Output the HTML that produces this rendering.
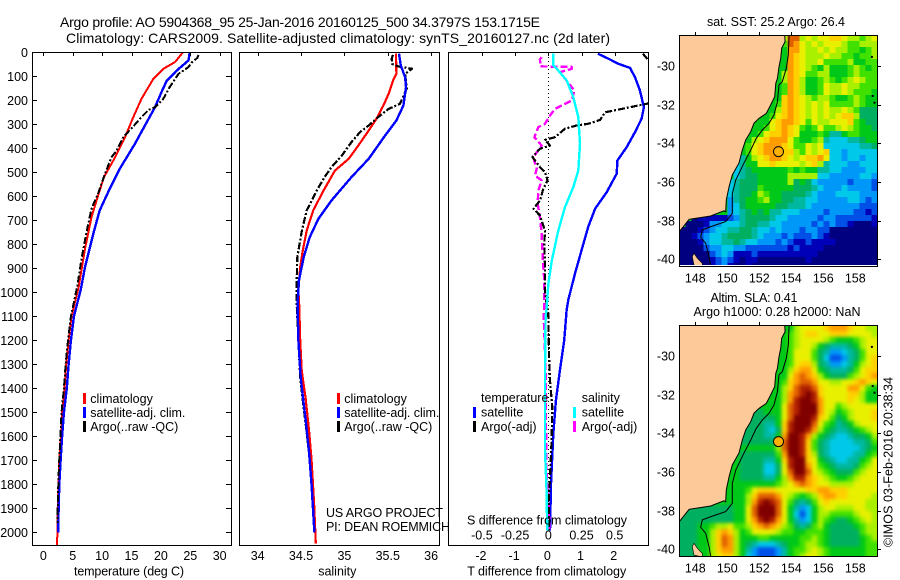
<!DOCTYPE html>
<html lang="en">
<head>
<meta charset="utf-8">
<title>Argo profile 5904368_95</title>
<style>
html,body{margin:0;padding:0;background:#fff;}
svg{display:block;}
text{font-family:"Liberation Sans",sans-serif;font-size:12.5px;fill:#000;}
.title{font-size:14px;}
.frame{fill:none;stroke:#000;stroke-width:1;shape-rendering:crispEdges;}
.tick{stroke:#000;stroke-width:1;shape-rendering:crispEdges;}
.ser{fill:none;shape-rendering:crispEdges;stroke-linejoin:round;}
</style>
</head>
<body>
<svg id="chart" xmlns="http://www.w3.org/2000/svg" width="900" height="580" viewBox="0 0 900 580">
  <defs>
    <clipPath id="clipDiff"><rect x="449" y="53" width="199" height="492"/></clipPath>
    <clipPath id="clipMap1"><rect x="680" y="36" width="197" height="229"/></clipPath>
    <clipPath id="clipMap2"><rect x="680" y="326" width="197" height="230"/></clipPath>
    <filter id="smooth" filterUnits="userSpaceOnUse" x="660" y="310" width="240" height="270" color-interpolation-filters="sRGB"><feGaussianBlur stdDeviation="1.8"/></filter>
  </defs>
  <rect x="0" y="0" width="900" height="580" fill="#fff"/>

  <text class="title" x="60" y="27" textLength="480" lengthAdjust="spacing">Argo profile: AO 5904368_95 25-Jan-2016 20160125_500 34.3797S 153.1715E</text>
  <text class="title" x="66" y="43" textLength="544" lengthAdjust="spacing">Climatology: CARS2009. Satellite-adjusted climatology: synTS_20160127.nc (2d later)</text>

  <g id="marks"></g>
  <g id="maps"></g>

  <rect class="frame" x="32.5" y="52.5" width="199" height="493"/>
  <rect class="frame" x="239.5" y="52.5" width="200" height="493"/>
  <rect class="frame" x="448.5" y="52.5" width="200" height="493"/>
  <rect class="frame" x="679.5" y="35.5" width="198" height="231"/>
  <rect class="frame" x="679.5" y="325.5" width="198" height="231"/>

  <g id="ticks"></g>

  <text x="129" y="575.5" text-anchor="middle" textLength="110" lengthAdjust="spacing">temperature (deg C)</text>
  <text x="337.3" y="575.5" text-anchor="middle">salinity</text>
  <text x="546.7" y="575.5" text-anchor="middle" textLength="159" lengthAdjust="spacing">T difference from climatology</text>
  <text x="547" y="524.5" text-anchor="middle" textLength="160" lengthAdjust="spacing">S difference from climatology</text>

  <g>
    <rect x="83" y="393" width="3" height="11" fill="#f00"/>
    <text x="90.3" y="403">climatology</text>
    <rect x="83" y="407" width="3" height="11" fill="#00f"/>
    <text x="90.3" y="417" textLength="95" lengthAdjust="spacing">satellite-adj. clim.</text>
    <rect x="83" y="421" width="3" height="11" fill="#000"/>
    <text x="90.3" y="431" textLength="88" lengthAdjust="spacing">Argo(..raw -QC)</text>
  </g>
  <g>
    <rect x="337" y="393" width="3" height="11" fill="#f00"/>
    <text x="344.3" y="403">climatology</text>
    <rect x="337" y="407" width="3" height="11" fill="#00f"/>
    <text x="344.3" y="417" textLength="95" lengthAdjust="spacing">satellite-adj. clim.</text>
    <rect x="337" y="421" width="3" height="11" fill="#000"/>
    <text x="344.3" y="431" textLength="88" lengthAdjust="spacing">Argo(..raw -QC)</text>
  </g>
  <g>
    <text x="481" y="402">temperature</text>
    <rect x="473" y="407" width="3" height="11" fill="#00f"/>
    <text x="481" y="416.5">satellite</text>
    <rect x="473" y="421" width="3" height="11" fill="#000"/>
    <text x="481" y="431">Argo(-adj)</text>
    <text x="581.7" y="402">salinity</text>
    <rect x="573" y="407" width="3" height="11" fill="#0ff"/>
    <text x="581.7" y="416.5">satellite</text>
    <rect x="573" y="421" width="3" height="11" fill="#f0f"/>
    <text x="581.7" y="431">Argo(-adj)</text>
  </g>

  <text x="326" y="517" textLength="117" lengthAdjust="spacing">US ARGO PROJECT</text>
  <text x="326" y="531" textLength="124" lengthAdjust="spacing">PI: DEAN ROEMMICH</text>

  <text x="776" y="26" text-anchor="middle" textLength="138" lengthAdjust="spacing">sat. SST: 25.2 Argo: 26.4</text>
  <text x="754" y="302" text-anchor="middle" textLength="87" lengthAdjust="spacing">Altim. SLA: 0.41</text>
  <text x="777" y="316" text-anchor="middle" textLength="167" lengthAdjust="spacing">Argo h1000: 0.28 h2000: NaN</text>
  <text transform="translate(892.5,547) rotate(-90)" textLength="170" lengthAdjust="spacing">©IMOS 03-Feb-2016 20:38:34</text>
</svg>

<script>
// ---- axis ticks ----
const depthTicks = [0,100,200,300,400,500,600,700,800,900,1000,1100,1200,1300,1400,1500,1600,1700,1800,1900,2000];
const tempTicks = [0,5,10,15,20,25,30];
const salTicks = [34,34.5,35,35.5,36];
const salTickLabels = ['34','34.5','35','35.5','36'];
const tDiffTicks = [-2,-1,0,1,2];
const sDiffTicks = [-0.5,-0.25,0,0.25,0.5];
const sDiffTickLabels = ['-0.5','-0.25','0','0.25','0.5'];
const lonTicks = [148,150,152,154,156,158];
const latTicks = [-30,-32,-34,-36,-38,-40];

// ---- temperature profiles ----
const tClimDepth = [0,40,68,110,193,269,353,450,520,589,686,818,978,1100,1200,1300,1400,1500,1600,1700,1800,1900,2000,2054];
const tClimValue = [23.7,22.4,20.4,18.7,16.7,15.3,13.9,11.9,10.3,9.4,8.2,7.1,6.0,4.8,4.3,3.9,3.6,3.2,3.0,2.7,2.6,2.45,2.4,2.33];
const tSatDepth = [0,33,75,117,165,228,290,380,485,568,658,755,894,985,1100,1200,1300,1400,1500,1600,1700,1800,1900,2000];
const tSatValue = [24.9,24.7,22.7,21,20.1,19,17.6,15.6,13,11.3,9.6,8.5,7.1,6.4,5.2,4.7,4.3,4.0,3.5,3.2,2.95,2.72,2.6,2.55];
const tArgoDepth = [10,22,40,61,89,144,193,228,239,269,308,353,408,436,505,582,651,742,860,971,1100,1200,1300,1400,1500,1600,1700,1800,1900,1960];
const tArgoValue = [26.4,26.2,25.3,24.7,23,21.5,20.4,19,17.9,16.7,15.3,13.6,12.5,11.6,10.5,9.4,8.2,7.4,6.5,5.8,4.7,4.2,3.8,3.5,3.1,2.9,2.7,2.55,2.45,2.4];

// ---- salinity profiles ----
const sClimDepth = [5,89,117,172,221,276,325,388,443,492,575,658,742,825,894,992,1061,1200,1325,1444,1569,1694,1881,2046];
const sClimValue = [35.595,35.6,35.56,35.51,35.45,35.37,35.28,35.16,35.05,34.89,34.76,34.64,34.565,34.52,34.49,34.47,34.48,34.49,34.507,34.554,34.59,34.62,34.65,34.67];
const sSatDepth = [5,54,103,144,221,283,346,443,520,617,693,770,853,950,1048,1200,1353,1450,1533,1658,1797,1978,2000];
const sSatValue = [35.63,35.65,35.7,35.71,35.68,35.6,35.47,35.28,35.08,34.85,34.7,34.6,34.53,34.475,34.46,34.47,34.496,34.526,34.554,34.59,34.62,34.65,34.655];
const sArgoDepth = [10,26,47,52,58,68,89,150,214,235,269,304,332,374,430,478,520,575,658,742,853,950,1048,1200,1353,1450,1569,1694,1800,1900,1960];
const sArgoValue = [35.56,35.545,35.55,35.58,35.62,35.78,35.7,35.72,35.64,35.51,35.39,35.28,35.18,35.08,34.97,34.85,34.77,34.68,34.565,34.51,34.457,34.45,34.45,34.47,34.49,34.52,34.56,34.6,34.62,34.64,34.645];

// ---- difference profiles ----
const dTSatDepth = [5,26,47,64,103,158,228,276,332,394,450,505,582,651,728,825,922,1033,1075,1200,1325,1450,1589,1796,1992];
const dTSatValue = [1.49,1.81,2.11,2.46,2.61,2.76,2.88,2.81,2.61,2.36,2.08,2.06,1.76,1.41,1.2,1.0,0.8,0.6,0.55,0.48,0.35,0.23,0.15,0.08,0.05];
const dTArgoDepth = [5,30,60,120,213,221,235,249,281,297,304,318,353,364,388,401,436,478,498,533,568,617,651,679,742,797,894,1004,1088,1256,1367,1478,1617,1770,1853,1992];
const dTArgoValue = [2.85,3.0,3.3,3.6,3.0,2.71,2.21,1.71,1.56,1.2,0.85,0.5,0.2,-0.1,0.05,-0.25,-0.48,-0.25,-0.1,-0.02,-0.15,-0.25,-0.45,-0.25,-0.1,-0.12,-0.1,-0.1,0,0.02,0.05,0.12,0.1,0.05,0.02,0.02];
const dSSatDepth = [5,54,75,117,186,269,380,492,561,644,742,867,964,1061,1103,1311,1450,1658,1838,1992];
const dSSatValue = [0.038,0.038,0.075,0.139,0.188,0.226,0.239,0.226,0.188,0.126,0.075,0.026,0,-0.012,-0.02,-0.025,-0.025,-0.025,-0.012,-0.008];
const dSArgoDepth = [20,29,47,58,60,68,82,158,200,235,263,297,311,353,388,436,485,513,533,575,630,686,755,853,950,1048,1103,1200,1380,1550,1783,1850,1992];
const dSArgoValue = [-0.05,-0.063,-0.06,-0.06,0.176,0.176,0.088,0.196,0.176,0.05,0.013,-0.025,-0.075,-0.105,-0.05,-0.113,-0.087,-0.1,-0.05,-0.075,-0.08,-0.063,-0.05,-0.042,-0.03,-0.03,-0.035,-0.028,-0.017,-0.017,-0.012,0,0.01];

// ---- map heat grids: one hex colour level per cell, west to east, north to south ----
const colourLevels = ['#000080','#0000b8','#0050e8','#0098f8','#00c8e8','#00b8a0','#00b060','#00c818','#40e000','#a8f000','#e8f000','#ffd000','#ff9c00','#e06000','#b02000','#800000'];
const gridLonStart = 147;
const gridLatStart = -28.4;
const gridLonStep = 0.375;
const gridLatStep = 0.31;
const sstRows = [
"77777777777777777 9dd9a9aabba9989a",
"77777777777777777 8dca9a9aaa98 8999",
"77777777777777777 7cca99a9a9988789",
"77777777777777777 7cba999a99887889",
"77777777777777777 7cba99a888897788",
"77777777777777777 7cba987977789878",
"77777777777777777 9cba889977789888",
"77777777777777777 9cb977898789a988",
"77777777777777777 8cb9778a99a99888",
"77777777777777777 8cb9778a99a98887",
"77777777777777777 bcba989987789877",
"77777777777777778 bcba9a9a88889877",
"77777777777777779 bcba9a9a99a98666",
"7777777777777778a bcba9a9a9abb9666",
"777777777777777ab ccba8a99aaab8766",
"77777777777777 8ab cba878a889a98776",
"7777777777777 8abb cba7778755788777",
"777777777777 9abcc ca87789544455677",
"77777777777 8abccc ba88a9a444444556",
"77777777777 8abccc bb98a9ab44344444",
"7777777777 579abcc ba9abbca44344344",
"777777777 4577aaba aaa9ab9544433444",
"777777777 45677777 7878775544333344",
"777777777 45667777 7999994433333443",
"77777777 456667777 7967643333323332",
"77777777 456668777 7766654333433332",
"77777777 456679877 6666543334444333",
"77777777 356778977 6655443333344323",
"77777777 346777776 6555433333333222",
"77777777 345676755 4443333233332212",
"77011111 235666654 4333332332222221",
"70001334 445665544 3333323232210001",
"00012344 556654434 3332332200000000",
"00123445 666654333 2322232100000000",
"00013445 565443332 3211211110000000",
"00002334 433222222 2121111000000000",
"00000234 311121111 1111110000000000",
"00000123 210110000 0000100000000000",
"00000123 100100000 0000000000000000"
];
const slaRows = [
"77777777777777777 779aaaabcccbaa99",
"77777777777777777 789abbaabbbaaaa9",
"77777777777777777 789aaaa98777 89aa",
"77777777777777777 789aa976555679aa",
"77777777777777777 78aaa865334568aa",
"77777777777777777 78aaa864223568ab",
"77777777777777777 78abb965334579ab",
"77777777777777777 79bcca7655568abb",
"77777777777777777 7acdcb9766689abc",
"77777777777777777 8bcddcaa99aabcba",
"77777777777777777 9bdeedbaaaacca87",
"77777777777777777 9cdefebaaaabb977",
"77777777777777777 9ceffecaaaaba977",
"77777777777777777 adefffcaa89aaaaa",
"77777777777766777 adefffca9789aaab",
"77777777777666667 adfffeba8679aaab",
"77777777777666557 befffda875679aaa",
"77777777776666546 beffec976556789a",
"77777777776666557 cffec97654456679",
"77777777776666668 dffeb86544445568",
"77777777777777779 dffeb86544444567",
"77777777776666668 cffeb96544445578",
"77777777776666557 beffba765445578a",
"77777777776666446 aeffca876555689a",
"77777777776666446 adffda98766689aa",
"77777777776666557 9ceecba987789aaa",
"77777777777777778 9acdcbaa9999aaaa",
"77777777777 8abbbaaaaabbccbbbaaaaa",
"77777777777 9bdddca98789bccbbaaaa9",
"77777777777 9cefeda86568abaaaaaa99",
"66666666677 adfffda753479aa999aa99",
"66666666677 adfffda742479988889aa9",
"66666666677 acefeca7534798766789a9",
"66677899a88 9bcdcb98656897666 67899",
"66677 9bcb97 8aaaa98877888766666899",
"66677 9bdc97 77887777788987666667 89",
"66677 9bdc97 654445677899876666 6788",
"66677 9bcc97 53222357889a98777777 88",
"66677 9abb97 4322235789aa9877777788"
];

// ---- coast, shelf contour, islands and float position ----
const coastLon = [153.59,153.61,153.40,153.34,153.23,153.13,153.03,152.96,152.65,152.44,151.98,151.67,151.46,151.15,150.94,150.73,150.31,150.11,149.94,149.90,149.79,148.96,147.61,147.0];
const coastLat = [-28.40,-28.74,-29.08,-29.60,-30.04,-30.64,-30.89,-31.59,-32.11,-32.45,-32.71,-32.96,-33.40,-33.83,-34.35,-35.02,-35.64,-36.24,-36.93,-37.54,-37.49,-37.76,-37.93,-38.57];
const isobathLon = [153.86,153.81,153.69,153.44,153.23,153.13,152.92,152.61,152.19,151.81,151.46,151.04,150.53,150.31,150.31,149.90,149.06,148.44,148.34,148.65,148.86,148.96];
const isobathLat = [-28.40,-29.43,-30.12,-30.81,-30.98,-31.85,-32.53,-32.96,-33.31,-33.74,-34.35,-35.03,-35.90,-36.59,-37.62,-38.05,-38.28,-38.48,-38.86,-39.17,-39.87,-40.38];
const islandLon = [147.92,148.13,148.44,148.44,147.92,147.81];
const islandLat = [-39.69,-39.95,-40.21,-40.4,-40.3,-39.86];
const speckLon = [159.04,159.09,159.2];
const speckLat = [-29.53,-31.55,-31.9];
const floatLon = 153.2;
const floatLat = -34.43;

// ---- axis functions ----
function yDepth(p){ return 52.5 + 0.24 * p; }
function xTemp(t){ return 43.3 + 5.88 * t; }
function xSal(s){ return 257.7 + 86.7 * (s - 34); }
function xDT(t){ return 548.3 + 33.2 * t; }
function xDS(s){ return 548.3 + 132.8 * s; }
function xLon(lon){ return 695.3 + 16 * (lon - 148); }
function yLat(lat, off){ return 66 + off + 19.33 * (-30 - lat); }

const NS = 'http://www.w3.org/2000/svg';
function mk(tag, parent, name){
  const el = document.createElementNS(NS, tag);
  
  
  parent.appendChild(el);
  return el;
}
function tickMark(parent, x1, y1, x2, y2, name){
  const l = mk('line', parent, name);
  l.setAttribute('class', 'tick');
  l.setAttribute('x1', x1); l.setAttribute('y1', y1);
  l.setAttribute('x2', x2); l.setAttribute('y2', y2);
}
function label(parent, x, y, str, anchor, name){
  const t = mk('text', parent, name);
  t.setAttribute('x', x); t.setAttribute('y', y);
  t.setAttribute('text-anchor', anchor);
  t.textContent = str;
}
function series(parent, depth, vals, xf, col, w, dash, name){
  const p = mk('polyline', parent, name);
  p.setAttribute('class', 'ser');
  p.setAttribute('points', depth.map((d, i) => xf(vals[i]).toFixed(1) + ',' + yDepth(d).toFixed(1)).join(' '));
  p.setAttribute('stroke', col);
  p.setAttribute('stroke-width', w);
  if (dash) p.setAttribute('stroke-dasharray', dash);
  return p;
}

const marks = document.getElementById('marks');
const DASHDOT = '7 2 2 2';
series(marks, tClimDepth, tClimValue, xTemp, '#f00', 2, null, 'temperature-climatology-line');
series(marks, tSatDepth, tSatValue, xTemp, '#00f', 2.4, null, 'temperature-satellite-line');
series(marks, tArgoDepth, tArgoValue, xTemp, '#000', 2, DASHDOT, 'temperature-argo-line');

series(marks, sClimDepth, sClimValue, xSal, '#f00', 2.2, null, 'salinity-climatology-line');
series(marks, sArgoDepth, sArgoValue, xSal, '#000', 2.2, DASHDOT, 'salinity-argo-line');
series(marks, sSatDepth, sSatValue, xSal, '#00f', 2.4, null, 'salinity-satellite-line');

const diffG = mk('g', marks, 'difference-lines');
diffG.setAttribute('clip-path', 'url(#clipDiff)');
const zero = mk('line', diffG, 'zero-reference-line');
zero.setAttribute('x1', xDT(0)); zero.setAttribute('x2', xDT(0));
zero.setAttribute('y1', 53); zero.setAttribute('y2', 532);
zero.setAttribute('stroke', '#000');
zero.setAttribute('stroke-dasharray', '1 3');
zero.setAttribute('shape-rendering', 'crispEdges');
series(diffG, dTSatDepth, dTSatValue, xDT, '#00f', 2.4, null, 't-difference-satellite-line');
series(diffG, dSArgoDepth, dSArgoValue, xDS, '#f0f', 2.4, '7 3', 's-difference-argo-line');
series(diffG, dTArgoDepth, dTArgoValue, xDT, '#000', 2.2, DASHDOT, 't-difference-argo-line');
series(diffG, dSSatDepth, dSSatValue, xDS, '#0ff', 2.4, null, 's-difference-satellite-line');

// ---- ticks and tick labels ----
const ticks = document.getElementById('ticks');
depthTicks.forEach(p => {
  const y = Math.floor(yDepth(p)) + 0.5;
  tickMark(ticks, 33, y, 37, y, 'depth-tick-left');
  tickMark(ticks, 226, y, 231, y, 'depth-tick-right');
  label(ticks, 28, y + 4.5, String(p), 'end', 'depth-tick-label');
});
tempTicks.forEach(t => {
  const x = Math.round(xTemp(t)) + 0.5;
  tickMark(ticks, x, 53, x, 56, 'temperature-tick');
  label(ticks, xTemp(t), 560, String(t), 'middle', 'temperature-tick-label');
});
salTicks.forEach((s, i) => {
  const x = Math.round(xSal(s)) + 0.5;
  tickMark(ticks, x, 53, x, 56, 'salinity-tick');
  label(ticks, xSal(s), 560, salTickLabels[i], 'middle', 'salinity-tick-label');
});
tDiffTicks.forEach(t => {
  const x = Math.round(xDT(t)) + 0.5;
  tickMark(ticks, x, 53, x, 56, 't-difference-tick');
  label(ticks, xDT(t) - 1, 560, String(t), 'middle', 't-difference-tick-label');
});
sDiffTicks.forEach((s, i) => {
  label(ticks, xDS(s), 539.5, sDiffTickLabels[i], 'middle', 's-difference-tick-label');
});
[0, 290].forEach(off => {
  const baseY = off === 0 ? 35 : 325;
  lonTicks.forEach(lon => {
    const x = Math.round(xLon(lon)) + 0.5;
    tickMark(ticks, x, baseY - 3, x, baseY, 'map-longitude-tick');
    label(ticks, xLon(lon), 282.5 + off, String(lon), 'middle', 'map-longitude-label');
  });
  latTicks.forEach(lat => {
    const y = Math.round(yLat(lat, off)) + 0.5;
    tickMark(ticks, 878, y, 881, y, 'map-latitude-tick');
    label(ticks, 675, y + 4, String(lat), 'end', 'map-latitude-label');
  });
});

// ---- maps ----
function drawMap(rows, off, clipId, blur, prefix){
  const maps = document.getElementById('maps');
  const g = mk('g', maps, prefix + '-map');
  g.setAttribute('clip-path', 'url(#' + clipId + ')');
  const cells = mk('g', g, prefix + '-heat-cells');
  if (blur) cells.setAttribute('filter', 'url(#smooth)');
  const nRows = rows.length;
  rows.forEach((rowStr, r) => {
    const row = rowStr.replace(/ /g, '');
    for (let c = 0; c < row.length; c++) {
      const level = parseInt(row[c], 16);
      const lonA = gridLonStart + c * gridLonStep;
      const latA = gridLatStart - r * gridLatStep;
      let x = xLon(lonA);
      let y = yLat(latA, off);
      let w = xLon(lonA + gridLonStep) - x + 0.4;
      let h = yLat(latA - gridLatStep, off) - y + 0.4;
      if (blur) {
        if (c === 0) { x -= 10; w += 10; }
        if (c === row.length - 1) { w += 10; }
        if (r === 0) { y -= 10; h += 10; }
        if (r === nRows - 1) { h += 10; }
      }
      const cell = mk('rect', cells, prefix + '-cell');
      cell.setAttribute('x', x.toFixed(1));
      cell.setAttribute('y', y.toFixed(1));
      cell.setAttribute('width', w.toFixed(1));
      cell.setAttribute('height', h.toFixed(1));
      cell.setAttribute('fill', colourLevels[level]);
      cell.setAttribute('shape-rendering', 'crispEdges');
    }
  });
  const coastPts = coastLon.map((lon, i) => xLon(lon).toFixed(1) + ',' + yLat(coastLat[i], off).toFixed(1));
  const land = mk('polygon', g, prefix + '-land');
  land.setAttribute('points', coastPts.join(' ') + ' ' + xLon(147).toFixed(1) + ',' + (yLat(-28.4, off)).toFixed(1));
  land.setAttribute('fill', '#fdc998');
  const coast = mk('polyline', g, prefix + '-coastline');
  coast.setAttribute('points', coastPts.join(' '));
  coast.setAttribute('fill', 'none');
  coast.setAttribute('stroke', '#000');
  coast.setAttribute('stroke-width', '1');
  const iso = mk('polyline', g, prefix + '-shelf-contour');
  iso.setAttribute('points', isobathLon.map((lon, i) => xLon(lon).toFixed(1) + ',' + yLat(isobathLat[i], off).toFixed(1)).join(' '));
  iso.setAttribute('fill', 'none');
  iso.setAttribute('stroke', '#000');
  iso.setAttribute('stroke-width', '1');
  const island = mk('polygon', g, prefix + '-island');
  island.setAttribute('points', islandLon.map((lon, i) => xLon(lon).toFixed(1) + ',' + yLat(islandLat[i], off).toFixed(1)).join(' '));
  island.setAttribute('fill', '#fdc998');
  island.setAttribute('stroke', '#000');
  island.setAttribute('stroke-width', '0.6');
  speckLon.forEach((lon, i) => {
    const s = mk('rect', g, prefix + '-island-speck');
    s.setAttribute('x', (xLon(lon) - 1).toFixed(1));
    s.setAttribute('y', (yLat(speckLat[i], off) - 1).toFixed(1));
    s.setAttribute('width', '2');
    s.setAttribute('height', '2');
    s.setAttribute('fill', '#000');
  });
  const dot = mk('circle', maps, prefix + '-float-position');
  dot.setAttribute('cx', xLon(floatLon).toFixed(1));
  dot.setAttribute('cy', yLat(floatLat, off).toFixed(1));
  dot.setAttribute('r', '5');
  dot.setAttribute('fill', '#ffb000');
  dot.setAttribute('stroke', '#000');
  dot.setAttribute('stroke-width', '1');
}
drawMap(sstRows, 0, 'clipMap1', false, 'sst');
drawMap(slaRows, 290, 'clipMap2', true, 'sla');
</script>
</body>
</html>
